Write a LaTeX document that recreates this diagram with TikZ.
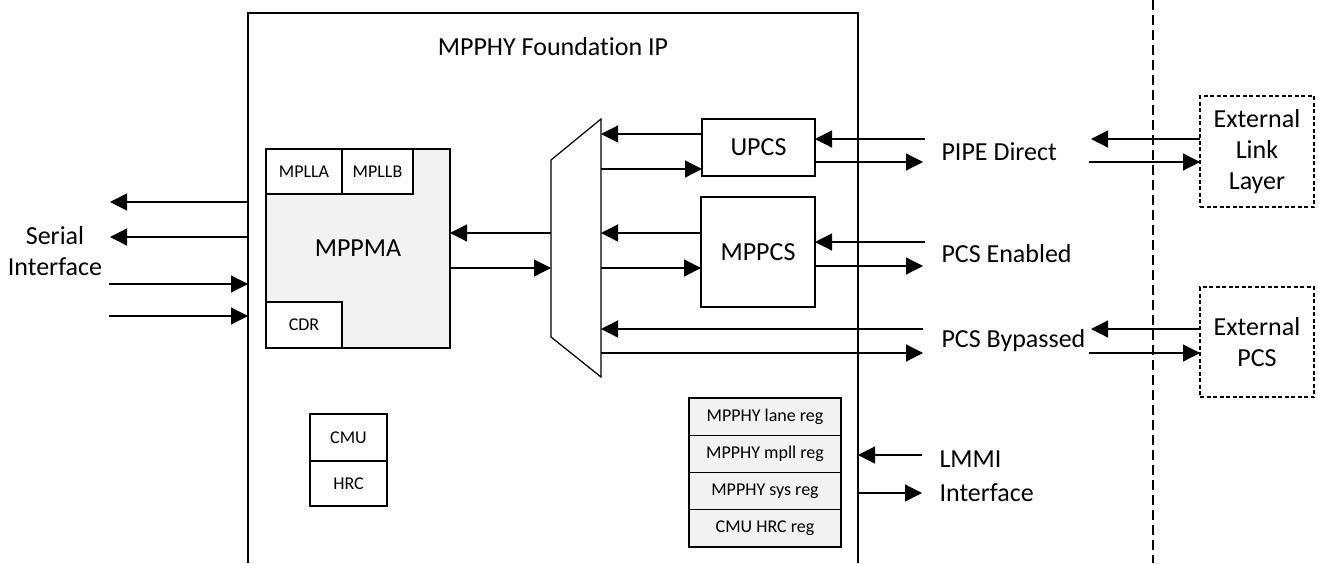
\documentclass[tikz,border=0pt]{standalone}
\usepackage{fontspec}
\setmainfont{Carlito}[Ligatures=NoCommon]
\usetikzlibrary{arrows.meta}
\definecolor{blockgray}{HTML}{F2F2F2}
\tikzset{
  big/.style={font=\fontsize{26}{31}\selectfont},
  small/.style={font=\fontsize{18}{20}\selectfont},
  blk/.style={draw, line width=1.2pt, inner sep=0pt, outer sep=0pt},
  extbox/.style={draw, line width=1.2pt, inner sep=0pt, outer sep=0pt, dash pattern=on 4pt off 2.5pt, align=center, big},
  arr/.style={line width=1.2pt, -{Triangle[length=17pt,width=17pt]}},
  ln/.style={line width=1.2pt}
}
\begin{document}
\begin{tikzpicture}[x=1pt,y=-1pt]
\useasboundingbox (0,0) rectangle (1318,563);
% main box (open bottom)
\coordinate (mainBL) at (248,563);
\coordinate (mainTL) at (248,13);
\coordinate (mainTR) at (858,13);
\coordinate (mainBR) at (858,563);
\draw[ln] (mainBL) -- (mainTL) -- (mainTR) -- (mainBR);
\node[big] (title) at (553,47) {MPPHY Foundation IP};
% separator
\draw[line width=1.1pt, dash pattern=on 10pt off 5pt] (1153,0) -- (1153,563);

% MPPMA
\node[blk, fill=blockgray, minimum width=184pt, minimum height=199pt, big] (mppma) at (358,248.5) {MPPMA};
\node[blk, fill=white, minimum width=76pt, minimum height=45pt, small] (mplla) at (304,171.5) {MPLLA};
\node[blk, fill=white, minimum width=71pt, minimum height=45pt, small] (mpllb) at (377.5,171.5) {MPLLB};
\node[blk, fill=white, minimum width=76pt, minimum height=46pt, small] (cdr) at (304,325) {CDR};

% CMU / HRC
\node[blk, minimum width=77pt, minimum height=47pt, small] (cmu) at (348.5,437.5) {CMU};
\node[blk, minimum width=77pt, minimum height=45pt, small] (hrc) at (348.5,483.5) {HRC};

% mux
\coordinate (muxLT) at (551,160);
\coordinate (muxRT) at (601,119);
\coordinate (muxRB) at (601,377);
\coordinate (muxLB) at (551,337);
\draw[ln] (muxLT) -- (muxRT) -- (muxRB) -- (muxLB) -- cycle;

% UPCS / MPPCS
\node[blk, minimum width=113pt, minimum height=57pt, big] (upcs) at (758.5,147.5) {UPCS};
\node[blk, minimum width=114pt, minimum height=110pt, big] (mppcs) at (758,252) {MPPCS};

% registers
\node[blk, fill=blockgray, minimum width=152pt, minimum height=37.25pt, small] (r1) at (765,416.6) {MPPHY lane reg};
\node[blk, fill=blockgray, minimum width=152pt, minimum height=37.25pt, small, anchor=north] (r2) at (r1.south) {MPPHY mpll reg};
\node[blk, fill=blockgray, minimum width=152pt, minimum height=37.25pt, small, anchor=north] (r3) at (r2.south) {MPPHY sys reg};
\node[blk, fill=blockgray, minimum width=152pt, minimum height=37.25pt, small, anchor=north] (r4) at (r3.south) {CMU HRC reg};

% external boxes
\node[extbox, minimum width=114pt, minimum height=111pt] (extlink) at (1257,151.5) {External\\Link\\Layer};
\node[extbox, minimum width=114pt, minimum height=110pt] (extpcs) at (1257,342) {External\\PCS};

% labels
\node[big, align=center] (serial) at (55,251) {Serial\\Interface};
\node[big, anchor=west] (pipe) at (938,152) {PIPE Direct};
\node[big, anchor=west] (pcsen) at (938,254) {PCS Enabled};
\node[big, anchor=west] (pcsby) at (938,341) {PCS Bypassed};
\node[big, anchor=west, align=left, font=\fontsize{26}{34}\selectfont] (lmmi) at (936,476) {LMMI\\Interface};

% free ends
\coordinate (s1) at (110,202);
\coordinate (s2) at (110,237);
\coordinate (s3) at (109,284);
\coordinate (s4) at (109,316);
\coordinate (u1) at (925,139);
\coordinate (u2) at (923,162);
\coordinate (p1) at (925,242);
\coordinate (p2) at (923,266);
\coordinate (b1) at (923,329);
\coordinate (b2) at (923,353);
\coordinate (e1) at (1091,139);
\coordinate (e2) at (1089,162);
\coordinate (e3) at (1091,329);
\coordinate (e4) at (1089,353);
\coordinate (l1) at (922,455);
\coordinate (l2) at (922,493);

% serial arrows
\draw[arr] (mainTL |- s1) -- (s1);
\draw[arr] (mainTL |- s2) -- (s2);
\draw[arr] (s3) -- (mainTL |- s3);
\draw[arr] (s4) -- (mainTL |- s4);

% mux <-> MPPMA
\draw[arr] (muxLT |- 0,233) -- (mppma.east |- 0,233);
\draw[arr] (mppma.east |- 0,268) -- (muxLT |- 0,268);

% mux <-> UPCS
\draw[arr] (upcs.west |- 0,134) -- (muxRT |- 0,134);
\draw[arr] (muxRT |- 0,169) -- (upcs.west |- 0,169);
\draw[arr] (u1) -- (upcs.east |- u1);
\draw[arr] (upcs.east |- u2) -- (u2);

% mux <-> MPPCS
\draw[arr] (mppcs.west |- 0,233) -- (muxRT |- 0,233);
\draw[arr] (muxRT |- 0,268) -- (mppcs.west |- 0,268);
\draw[arr] (p1) -- (mppcs.east |- p1);
\draw[arr] (mppcs.east |- p2) -- (p2);

% bypass
\draw[arr] (b1) -- (muxRT |- b1);
\draw[arr] (muxRT |- b2) -- (b2);

% external
\draw[arr] (extlink.west |- e1) -- (e1);
\draw[arr] (e2) -- (extlink.west |- e2);
\draw[arr] (extpcs.west |- e3) -- (e3);
\draw[arr] (e4) -- (extpcs.west |- e4);

% LMMI
\draw[arr] (l1) -- (mainTR |- l1);
\draw[arr] (mainTR |- l2) -- (l2);
\end{tikzpicture}
\end{document}
